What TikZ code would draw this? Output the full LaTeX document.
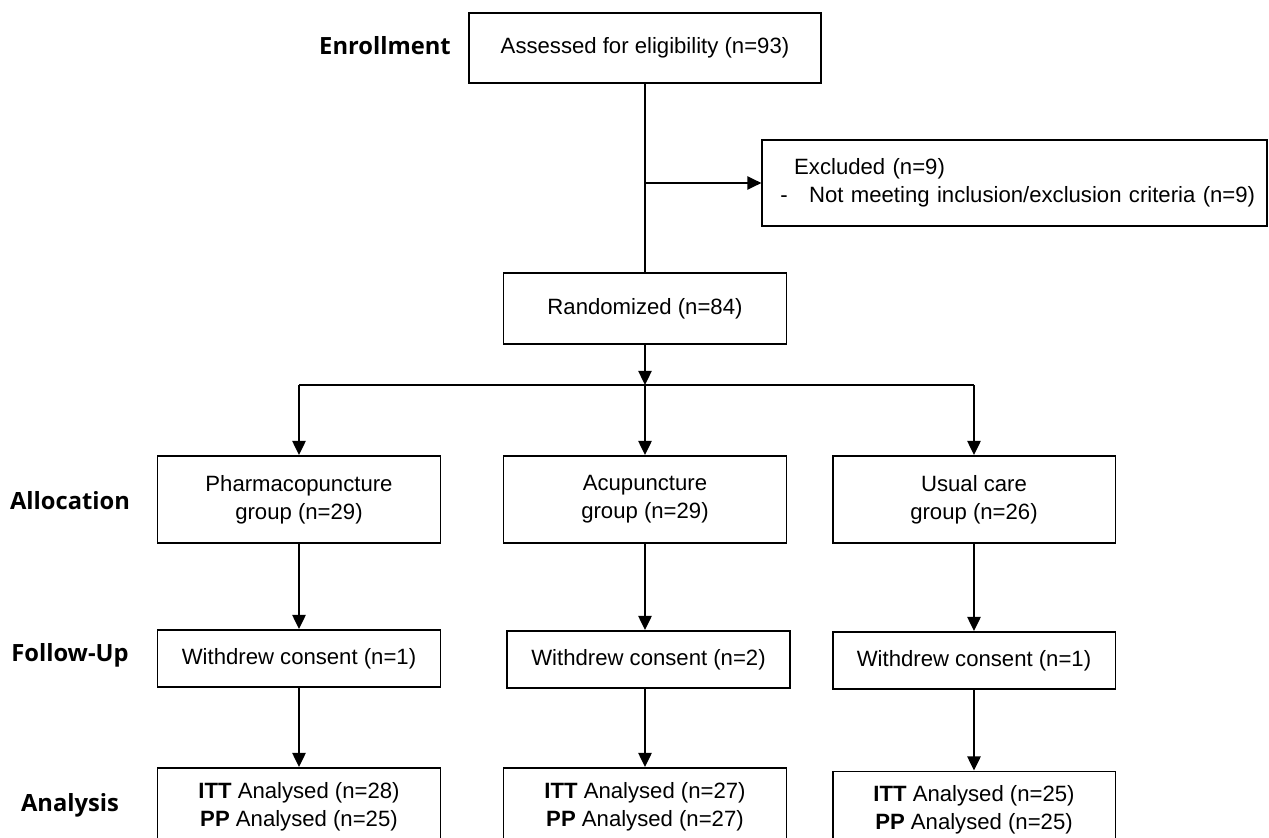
\documentclass[tikz,border=0pt]{standalone}
\usepackage{fontspec}
\setmainfont{Liberation Sans}
\newfontfamily\stagefont{Open Sans}
\usetikzlibrary{arrows.meta}
\begin{document}
\begin{tikzpicture}[x=0.02cm,y=-0.02cm,line width=1.1pt,>={Triangle[length=8pt,width=7.5pt]},
  itm/.style={draw=black,rectangle,minimum width=5.66cm,align=center,inner sep=0pt,font=\fontsize{12.6}{15.9}\selectfont},
  lbl/.style={font=\stagefont\bfseries\fontsize{13.5}{16}\selectfont}]
\useasboundingbox (0,0) rectangle (1269,838);
\node[lbl] (Le) at (385,46) {Enrollment};
\node[lbl] (La) at (70,501) {Allocation};
\node[lbl] (Lf) at (70,655) {Follow-Up};
\node[lbl] (Ln) at (70,805) {Analysis};
\node[itm,minimum width=7.04cm,minimum height=1.4cm] (Ae) at (645,48) {Assessed for eligibility (n=93)};
\node[itm,minimum height=1.72cm,inner xsep=4pt,text width=279pt,align=left] (Ex) at (1014.5,183)
  {\hspace*{14.1pt}Excluded (n=9)\\\hspace*{6.2pt}-\hspace{12.2pt}Not meeting inclusion/exclusion criteria (n=9)};
\node[itm,minimum height=1.42cm] (R) at (645,308.5) {Randomized (n=84)};
\node[itm,minimum height=1.74cm] (P) at (299,499.5) {Pharmacopuncture\\group (n=29)};
\node[itm,minimum height=1.74cm] (A) at (645,499.5) {Acupuncture\\group (n=29)};
\node[itm,minimum height=1.74cm] (U) at (974,499.5) {Usual care\\group (n=26)};
\node[itm,minimum height=1.14cm] (WP) at (299,658.5) {Withdrew consent (n=1)};
\node[itm,minimum height=1.14cm] (WA) at (648.5,659.5) {Withdrew consent (n=2)};
\node[itm,minimum height=1.14cm] (WU) at (974,660.5) {Withdrew consent (n=1)};
\node[itm,minimum height=1.54cm] (NP) at (299,806.5) {\textbf{ITT} Analysed (n=28)\\\textbf{PP} Analysed (n=25)};
\node[itm,minimum height=1.54cm] (NA) at (645,806.5) {\textbf{ITT} Analysed (n=27)\\\textbf{PP} Analysed (n=27)};
\node[itm,minimum height=1.54cm] (NU) at (974,810) {\textbf{ITT} Analysed (n=25)\\\textbf{PP} Analysed (n=25)};
\coordinate (S) at (645,385);
\draw (Ae.south) -- (Ae.south |- R.north);
\draw[->] (Ae.south |- Ex.west) -- (Ex.west);
\draw[->] (R) -- (S);
\draw (P.north |- S) -- (U.north |- S);
\draw[->] (P.north |- S) -- (P);
\draw[->] (S) -- (A);
\draw[->] (U.north |- S) -- (U);
\draw[->] (P) -- (WP);
\draw[->] (A) -- (A |- WA.north);
\draw[->] (U) -- (WU);
\draw[->] (WP) -- (NP);
\draw[->] (S |- WA.south) -- (NA);
\draw[->] (WU) -- (NU);
\end{tikzpicture}
\end{document}
